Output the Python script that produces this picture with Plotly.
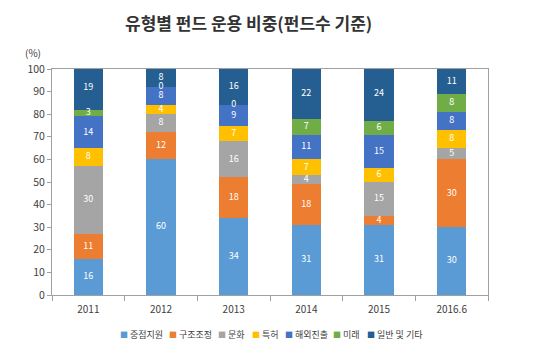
import plotly.graph_objects as go

categories = ["2011", "2012", "2013", "2014", "2015", "2016.6"]
series_names = ["중점지원", "구조조정", "문화", "특허", "해외진출", "미래", "일반 및 기타"]
v_core = [16, 60, 34, 31, 31, 30]
v_restr = [11, 12, 18, 18, 4, 30]
v_culture = [30, 8, 16, 4, 15, 5]
v_patent = [8, 4, 7, 7, 6, 8]
v_overseas = [14, 8, 9, 11, 15, 8]
v_future = [3, 0, 0, 7, 6, 8]
v_general = [19, 8, 16, 22, 24, 11]
series_values = [v_core, v_restr, v_culture, v_patent, v_overseas, v_future, v_general]
colors = ["#5b9bd5", "#ed7d31", "#a5a5a5", "#ffc000", "#4472c4", "#70ad47", "#255e91"]

font_family = "Noto Sans CJK KR, Noto Sans, sans-serif"
W, H = 540, 354
L, R, T, B = 52, 52, 69, 59
PW, PH = W - L - R, H - T - B


def px_x(x):
    return (x - L) / PW


def px_y(y):
    return (H - B - y) / PH


fig = go.Figure()
for name, vals, col in zip(series_names, series_values, colors):
    fig.add_trace(go.Bar(x=categories, y=vals, name=name, marker_color=col,
                         marker_line_width=0, width=0.4, showlegend=False))

# labels centered in each segment
lab_x, lab_y, lab_t = [], [], []
base = [0] * len(categories)
for si, vals in enumerate(series_values):
    for i, v in enumerate(vals):
        mid = base[i] + v / 2
        lab_x.append(categories[i]); lab_y.append(min(mid, 99)); lab_t.append(str(v))
        base[i] += v
fig.add_trace(go.Scatter(x=lab_x, y=lab_y, text=lab_t, mode="text",
                         textfont=dict(color="white", size=9, family=font_family),
                         showlegend=False, hoverinfo="skip", cliponaxis=False))

annotations = [
    dict(text="<b>유형별 펀드 운용 비중(펀드수 기준)</b>", x=px_x(248), y=px_y(22),
         xref="paper", yref="paper", xanchor="center", yanchor="middle", showarrow=False,
         font=dict(size=17, color="#333333")),
    dict(text="(%)", x=px_x(33), y=px_y(53), xref="paper", yref="paper", xanchor="center",
         yanchor="middle", showarrow=False, font=dict(size=10, color="#404040")),
]
# custom legend (single row)
legend_x = [118, 167, 216, 250, 283, 331, 365]
for name, col, lx in zip(series_names, colors, legend_x):
    annotations.append(dict(
        text=f"<span style='color:{col};font-size:8px'>■</span> {name}", x=px_x(lx), y=px_y(334),
        xref="paper", yref="paper", xanchor="left", yanchor="middle", showarrow=False,
        font=dict(size=9, color="#404040")))

fig.update_layout(
    barmode="stack",
    width=W, height=H,
    margin=dict(l=L, r=R, t=T, b=B),
    paper_bgcolor="white", plot_bgcolor="white",
    font=dict(family=font_family, color="#404040", size=10),
    showlegend=False,
    annotations=annotations,
)
fig.update_xaxes(showline=True, linecolor="#a0a0a0", linewidth=1, mirror=True,
                 ticks="outside", tickson="boundaries", ticklen=5, tickcolor="#a0a0a0",
                 showgrid=False, tickfont=dict(size=10), automargin=False,
                 ticklabelstandoff=5)
fig.update_yaxes(range=[0, 100], dtick=10, showline=True, linecolor="#a0a0a0", linewidth=1,
                 mirror=True, ticks="outside", ticklen=4, tickcolor="#a0a0a0",
                 showgrid=False, zeroline=False, tickfont=dict(size=10.5), automargin=False)
fig.write_html("out.html")
